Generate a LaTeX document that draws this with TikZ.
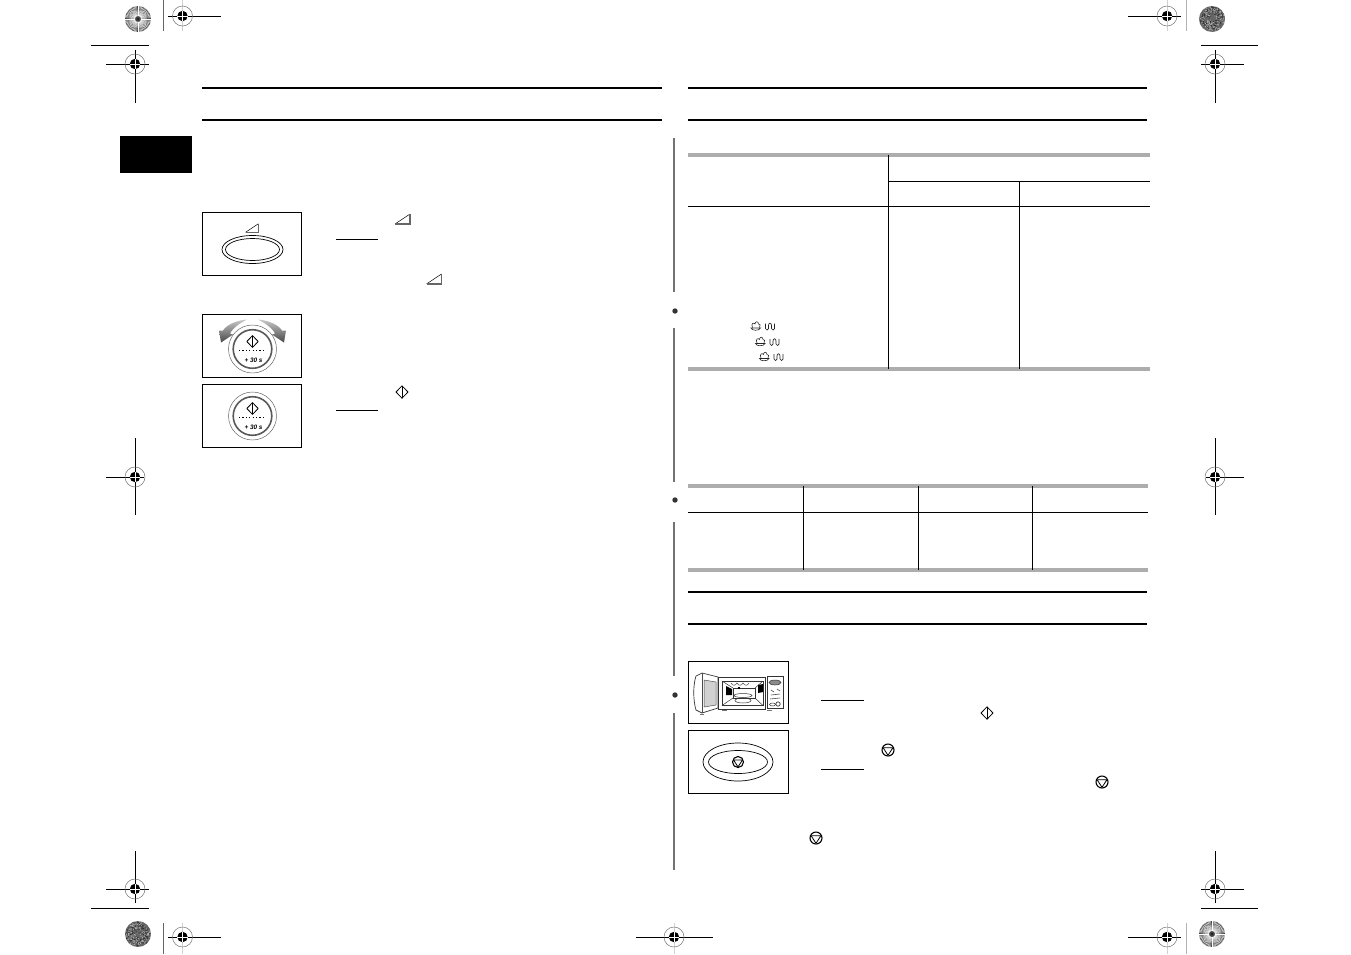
\documentclass[tikz,border=0pt]{standalone}
\usepackage{fontspec}
\usepackage{tikz}
\usetikzlibrary{positioning, arrows.meta, shapes.geometric}
\newfontfamily\dialfont{Liberation Sans}
\tikzset{
    hair/.style={line width=0.7pt, black},
    thinline/.style={line width=1pt, black},
    panelbox/.style={line width=1pt, black},
    ruleheavy/.style={line width=1.9pt, black},
    rulesoft/.style={line width=3.6pt, black!32},
    pics/regmark/.style={code={
        \draw[line width=0.5pt, black!55] (0,0) circle (10pt);
        \fill[black] (0,0) circle (5.2pt);
        \draw[line width=0.7pt, white] (-5.2,0) -- (5.2,0) (0,-5.2) -- (0,5.2);
    }},
    pics/burst/.style={code={
        \fill[black!72] (0,0) circle (13pt);
        \foreach \a in {0,6,...,354} {
            \draw[line width=0.38pt, white] (\a:3pt) -- (\a:12.8pt);
        }
        \fill[black!85] (0,0) circle (1.6pt);
    }},
    pics/speckle/.style={code={
        \fill[black!60] (0,0) circle (13pt);
        \foreach \k in {1,...,170} {
            \fill[black!30] ({360*rnd}:{12.5*sqrt(rnd)}) circle (0.55pt);
            \fill[black!85] ({360*rnd}:{12.5*sqrt(rnd)}) circle (0.5pt);
        }
    }},
    pics/stopicon/.style={code={
        \draw[line width=1.1pt, black] (0,0) circle (#1pt);
        \draw[line width=0.8pt, black, line join=round] (-0.82*#1,-0.38*#1) -- (0.82*#1,-0.38*#1) -- (0,0.88*#1) -- cycle;
    }},
    pics/goicon/.style={code={
        \draw[line width=0.8pt, black, line join=round] (-6,0) -- (0,-6.2) -- (6,0) -- (0,6.2) -- cycle;
        \draw[line width=0.6pt, black] (0,-6.2) -- (0,6.2);
    }},
    pics/rampicon/.style={code={
        \draw[line width=0.5pt, black] (-7.5,5) -- (7.5,-5);
        \draw[line width=1.2pt, black!60] (-7.5,5) -- (7.5,5) -- (7.5,-5);
    }},
    pics/grillicon/.style={code={
        \draw[line width=0.6pt, black!85] (-15.5,1.5) .. controls (-15,4.5) and (-7,4.5) .. (-6,1.5) -- cycle;
        \draw[line width=0.6pt, black!85] (-14,1) .. controls (-16,-3) and (-12.5,-4.5) .. (-11.5,-2.5) .. controls (-11.5,-5.5) and (-8,-5.5) .. (-8,-2.5) .. controls (-6,-3.5) and (-6,-0.5) .. (-7,1);
        \draw[line width=0.7pt, black!85] (-1,-3) -- (-1,2) .. controls (-1,4) and (2,4) .. (2,2) -- (2,-1) .. controls (2,-4) and (5,-4) .. (5,-1) -- (5,2) .. controls (5,4) and (8,4) .. (8,2) -- (8,-3);
    }},
    pics/dial/.style={code={
        \draw[line width=0.45pt, black!65] (0,0) circle (24pt);
        \draw[line width=1.6pt, black!65] (0,0) circle (19.3pt);
        \pic at (0,-7.5) [scale=0.95] {goicon};
        \draw[line width=1pt, black, dash pattern=on 1.1pt off 2.3pt] (-13.5,1) -- (13.5,1);
        \node[font=\dialfont\bfseries\itshape\fontsize{6.4}{7}\selectfont, inner sep=0pt] (dialtext) at (1,11.5) {+ 30 s};
    }},
    pics/bentarrow/.style={code={
        \shade[top color=black!22, bottom color=black!72] (0,0) .. controls (-12,1) and (-21,6) .. (-24,11)
            -- (-28,11) -- (-26,23) -- (-14,15) -- (-17,14) .. controls (-14,8) and (-6,3) .. (0,0) -- cycle;
    }}
}

\begin{document}
\begin{tikzpicture}[x=1pt, y=-1pt]
    \useasboundingbox (0,0) rectangle (1351,954);
    \pgfmathsetseed{7}
    % crop marks
    \foreach \cx/\cy/\xa/\xb/\ya/\yb in {135/64/106/149/50/103, 135/477/106/144/438/515, 135/889/106/149/851/903,
        1215/64/1201/1244/50/103, 1215/477/1206/1244/438/515, 1215/889/1201/1244/851/903} {
        \draw[hair] (\xa,\cy) -- (\xb,\cy);
        \draw[hair] (\cx,\ya) -- (\cx,\yb);
        \pic at (\cx,\cy) {regmark};
    }
    \foreach \cx/\cy/\xa/\xb/\ya/\yb in {182.5/16/168/221/0/31, 1167/16/1128/1181/0/31,
        182.5/937/168/221/923/954, 1167/937/1128/1181/923/954, 674/937/636/713/923/954} {
        \draw[line width=0.7pt, black!18] (\cx,\ya) -- (\cx,\yb);
        \draw[hair] (\xa,\cy) -- (\xb,\cy);
        \pic at (\cx,\cy) {regmark};
    }
    \draw[hair] (91,45) -- (149,45);
    \draw[hair] (91,908) -- (149,908);
    \draw[hair] (1201,45) -- (1258,45);
    \draw[hair] (1201,908) -- (1258,908);
    \draw[line width=0.8pt, black!60] (163,0) -- (163,31);
    \draw[line width=0.8pt, black!60] (163,923) -- (163,954);
    \draw[line width=0.8pt, black!30] (1186.5,0) -- (1186.5,31);
    \draw[line width=0.8pt, black!30] (1186.5,923) -- (1186.5,954);
    \pic at (138,19) {burst};
    \pic at (1212,19) {speckle};
    \pic at (138,934) {speckle};
    \pic at (1212,934) {burst};

    % headings
    \foreach \ya in {88,120} {
        \draw[ruleheavy] (202,\ya) -- (662,\ya);
        \draw[ruleheavy] (688,\ya) -- (1147,\ya);
    }
    \draw[ruleheavy] (688,592) -- (1147,592);
    \draw[ruleheavy] (688,624) -- (1147,624);
    \fill[black] (120,136) rectangle (192,173);

    % middle rule
    \foreach \ya/\yb in {138/292, 328/482, 522/676, 713/870} {
        \draw[line width=1.2pt, black!55] (674,\ya) -- (674,\yb);
    }
    \foreach \cy in {311,500,695} {
        \fill[black!80] (675,\cy) circle (2.7pt);
    }

    % left panels
    \draw[panelbox] (202.5,212.5) rectangle (301.5,275.5);
    \draw[panelbox] (202.5,314.5) rectangle (301.5,377.5);
    \draw[panelbox] (202.5,384.5) rectangle (301.5,447.5);
    \draw[line width=0.7pt] (252.5,249.5) ellipse (30.5pt and 14pt);
    \draw[line width=0.7pt] (252.5,249.5) ellipse (27pt and 11pt);
    \pic at (252,228) [scale=0.85] {rampicon};
    \pic at (252.5,349) {dial};
    \pic at (252.5,416) {dial};
    \pic at (247,319.5) {bentarrow};
    \pic at (258,319.5) [xscale=-1] {bentarrow};

    % left notes
    \draw[thinline] (336,239.5) -- (378,239.5);
    \draw[thinline] (336,410.5) -- (378,410.5);
    \pic at (402.5,219) {rampicon};
    \pic at (434,279) {rampicon};
    \pic at (402,392) {goicon};

    % first table
    \draw[rulesoft] (688,155) -- (1150,155);
    \draw[rulesoft] (688,369) -- (1150,369);
    \draw[hair] (888,181) -- (1150,181);
    \draw[hair] (688,206.5) -- (1150,206.5);
    \draw[line width=1pt] (888.5,155) -- (888.5,369);
    \draw[line width=1pt] (1019.5,181) -- (1019.5,369);
    \pic at (766.5,326.5) {grillicon};
    \pic at (771,342) {grillicon};
    \pic at (775,357) {grillicon};

    % second table
    \draw[rulesoft] (688,486) -- (1148,486);
    \draw[rulesoft] (688,570) -- (1148,570);
    \draw[hair] (688,512.5) -- (1148,512.5);
    \foreach \cx in {803.5,918.5,1032.5} {
        \draw[line width=1pt] (\cx,486) -- (\cx,570);
    }

    % right panels
    \draw[panelbox] (688.5,661.5) rectangle (788.5,723.5);
    \draw[panelbox] (688.5,730.5) rectangle (788.5,793.5);
    % microwave
    \draw[line width=0.7pt, black!80] (702,673) -- (718,677) -- (718,708) -- (702,713) -- (696,710) .. controls (693,700) and (693,685) .. (696,676) -- cycle;
    \draw[line width=0.5pt, black!70] (702,673) -- (702,713);
    \draw[line width=0.5pt, black!70, fill=black!18] (704,680) -- (716,682) -- (716,705) -- (704,707) -- cycle;
    \draw[line width=0.7pt, black!80] (718,677) rectangle (765,709);
    \draw[line width=0.7pt, black!80] (767,676) rectangle (783,708);
    \draw[line width=0.6pt, black!80] (722,681) rectangle (763,705.5);
    \draw[line width=0.5pt, black!80] (733,688) rectangle (755,698);
    \draw[line width=0.5pt, black!80] (722,681) -- (733,688) (763,681) -- (755,688) (722,705.5) -- (733,698) (763,705.5) -- (755,698);
    \fill[black] (726,686) -- (732,689) -- (732,695) -- (726,695) -- cycle;
    \fill[black] (758,685) -- (763,684) -- (763,692) -- (758,693) -- cycle;
    \fill[black] (738,687) rectangle (740,689);
    \draw[line width=0.5pt, black!70] (731,683) .. controls (733,686) and (735,686) .. (737,683) .. controls (739,686) and (741,686) .. (743,683) .. controls (745,686) and (747,686) .. (749,683);
    \draw[line width=0.5pt, black!80] (743,700.5) ellipse (8pt and 2.5pt);
    \draw[line width=0.5pt, black!80] (743,695.5) ellipse (9pt and 2pt);
    \draw[line width=0.5pt, black!80, fill=black!45] (775,682.5) ellipse (6pt and 2.5pt);
    \draw[line width=0.6pt, black!70] (771,690) -- (774,692) (777,689) -- (780,691) (771,695) -- (780,694) (770,699) -- (780,698);
    \draw[line width=0.5pt, black!80] (772.5,704.5) ellipse (3pt and 1.5pt);
    \draw[line width=0.7pt, black!80] (778,704) circle (2.2pt);
    \draw[line width=0.8pt, black!55] (722,710) -- (727,710) (767,710) -- (772,710) (700,714) -- (704,714);
    % stop oval
    \draw[line width=0.7pt] (738,762) ellipse (35pt and 19pt);
    \draw[line width=0.7pt] (738,762) ellipse (29.5pt and 11.5pt);
    \pic at (738,762) {stopicon=5.5};

    % right notes
    \draw[thinline] (821,700.5) -- (864,700.5);
    \draw[thinline] (821,769.5) -- (864,769.5);
    \pic at (987,713) {goicon};
    \pic at (888,750) {stopicon=6};
    \pic at (1102,782) {stopicon=6};
    \pic at (816,838) {stopicon=6};
\end{tikzpicture}
\end{document}
